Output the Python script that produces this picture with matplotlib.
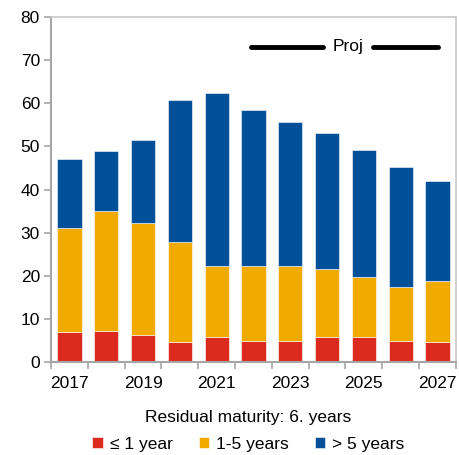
import matplotlib
matplotlib.use("Agg")
import matplotlib.pyplot as plt
import numpy as np

plt.rcParams['font.family'] = ['Liberation Sans', 'DejaVu Sans']

years = [2017, 2018, 2019, 2020, 2021, 2022, 2023, 2024, 2025, 2026, 2027]
tick_labels = ["2017", "", "2019", "", "2021", "", "2023", "", "2025", "", "2027"]
short_term = [7.0, 7.3, 6.2, 4.6, 5.8, 4.9, 4.9, 5.8, 5.8, 4.9, 4.6]
medium_term = [24.1, 27.8, 26.1, 23.3, 16.4, 17.3, 17.3, 15.7, 14.0, 12.5, 14.1]
long_term = [16.0, 13.9, 19.2, 32.8, 40.2, 36.2, 33.4, 31.7, 29.3, 27.7, 23.2]
series_names = ["\u2264 1 year", "1-5 years", "> 5 years"]
colors = ["#DC2A1E", "#F0AA00", "#004F99"]

FS = 12.5

fig = plt.figure(figsize=(4.6, 4.55), dpi=100)
ax = fig.add_axes([0.111, 0.204, 0.880, 0.759])

x = np.arange(len(years))
bottom = np.zeros(len(years))
handles = []
for vals, col, name in zip([short_term, medium_term, long_term], colors, series_names):
    b = ax.bar(x, vals, width=0.66, bottom=bottom, color=col, label=name,
               edgecolor="white", linewidth=0.4)
    handles.append(b)
    bottom += np.array(vals)

ax.set_xlim(-0.5, len(years) - 0.5)
ax.set_ylim(0, 80)
ax.set_yticks(np.arange(0, 81, 10))
ax.set_xticks(x)
ax.set_xticklabels(tick_labels)
ax.set_xticks(np.arange(-0.5, len(years), 1), minor=True)
ax.tick_params(axis='x', which='major', length=0, labelsize=FS, pad=10)
ax.tick_params(axis='x', which='minor', length=5, color="#a6a6a6", width=1.2, direction='out')
ax.tick_params(axis='y', length=5, color="#a6a6a6", width=1.2, labelsize=FS, pad=3)

for side in ["left", "bottom"]:
    ax.spines[side].set_color("#a6a6a6")
    ax.spines[side].set_linewidth(1.5)
for side in ["top", "right"]:
    ax.spines[side].set_color("#c8c8c8")
    ax.spines[side].set_linewidth(1.2)

# projection marker
proj_y = 73.1
ax.plot([4.93, 6.89], [proj_y, proj_y], color="black", lw=3.5, solid_capstyle="round")
ax.plot([8.25, 10.02], [proj_y, proj_y], color="black", lw=3.5, solid_capstyle="round")
ax.text(7.58, proj_y, "Proj", ha="center", va="center", fontsize=FS)

leg = fig.legend(handles=handles, labels=series_names, loc="upper center",
                 bbox_to_anchor=(0.54, 0.121), ncol=3, frameon=False,
                 title="Residual maturity: 6. years", title_fontsize=FS,
                 fontsize=FS, handlelength=0.6, handleheight=0.6,
                 handletextpad=0.4, columnspacing=1.5, borderpad=0.1,
                 labelspacing=0.65)

fig.savefig("out.png", dpi=100)
